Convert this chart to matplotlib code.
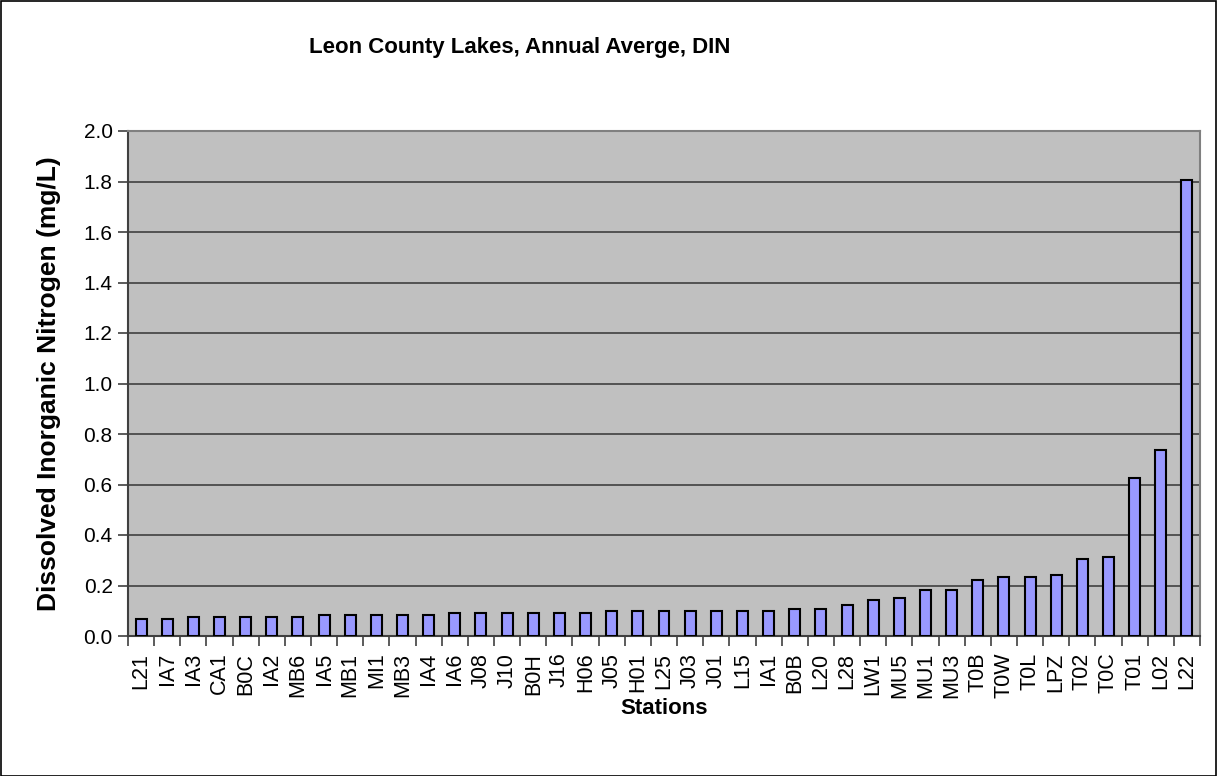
import matplotlib
matplotlib.use("Agg")
import matplotlib.pyplot as plt
import numpy as np
from matplotlib.patches import Rectangle

stations = ["L21", "IA7", "IA3", "CA1", "B0C", "IA2", "MB6", "IA5", "MB1", "MI1",
            "MB3", "IA4", "IA6", "J08", "J10", "B0H", "J16", "H06", "J05", "H01",
            "L25", "J03", "J01", "L15", "IA1", "B0B", "L20", "L28", "LW1", "MU5",
            "MU1", "MU3", "T0B", "T0W", "T0L", "LPZ", "T02", "T0C", "T01", "L02", "L22"]
din = [0.066, 0.066, 0.074, 0.074, 0.074, 0.074, 0.074, 0.082, 0.082, 0.082,
       0.082, 0.082, 0.090, 0.090, 0.090, 0.090, 0.090, 0.090, 0.098, 0.098,
       0.098, 0.098, 0.098, 0.098, 0.098, 0.106, 0.106, 0.121, 0.144, 0.152,
       0.184, 0.184, 0.222, 0.233, 0.233, 0.241, 0.303, 0.312, 0.627, 0.738, 1.805]
yticks = [0.0, 0.2, 0.4, 0.6, 0.8, 1.0, 1.2, 1.4, 1.6, 1.8, 2.0]

plt.rcParams['font.family'] = ['Liberation Sans', 'DejaVu Sans']

W, H = 1217, 776
fig = plt.figure(figsize=(W / 100, H / 100), dpi=100)
ax = fig.add_axes([128 / W, 1 - 636 / H, (1200 - 128) / W, (636 - 131) / H])
ax.set_facecolor('#C0C0C0')

x = np.arange(len(stations))
ax.bar(x, din, width=0.42, color='#9999FF', edgecolor='black', linewidth=1.5, zorder=3)

ax.set_xlim(-0.5, len(stations) - 0.5)
ax.set_ylim(0, 2.0)
ax.set_yticks(yticks)
ax.set_yticklabels([f"{v:.1f}" for v in yticks], fontsize=15)
ax.yaxis.grid(True, color='#404040', linewidth=1.2, zorder=1)
ax.set_axisbelow(True)

ax.set_xticks(x)
ax.set_xticklabels(stations, rotation=90, fontsize=15.5)
ax.set_xticks(np.arange(-0.5, len(stations), 1), minor=True)
ax.tick_params(axis='x', which='major', length=0, pad=12)
ax.tick_params(axis='x', which='minor', length=7, width=1.2, color='#404040', direction='out')
ax.tick_params(axis='y', which='major', length=7, width=1.2, color='#404040', direction='out', pad=4)

for s in ['top', 'right']:
    ax.spines[s].set_color('#808080')
    ax.spines[s].set_linewidth(1.5)
for s in ['left', 'bottom']:
    ax.spines[s].set_color('#404040')
    ax.spines[s].set_linewidth(1.5)

ax.set_ylabel("Dissolved Inorganic Nitrogen (mg/L)", fontsize=19, fontweight='bold', labelpad=16)
ax.set_xlabel("Stations", fontsize=16, fontweight='bold', labelpad=0)

fig.text(520 / W, 1 - 47 / H, "Leon County Lakes, Annual Averge, DIN", ha='center', va='center',
         fontsize=16, fontweight='bold')

fig.patches.append(Rectangle((0.5 / W, 0.5 / H), 1 - 1.5 / W, 1 - 1.5 / H, transform=fig.transFigure,
                             fill=False, edgecolor='black', linewidth=1.2))

fig.savefig("out.png", dpi=100)
